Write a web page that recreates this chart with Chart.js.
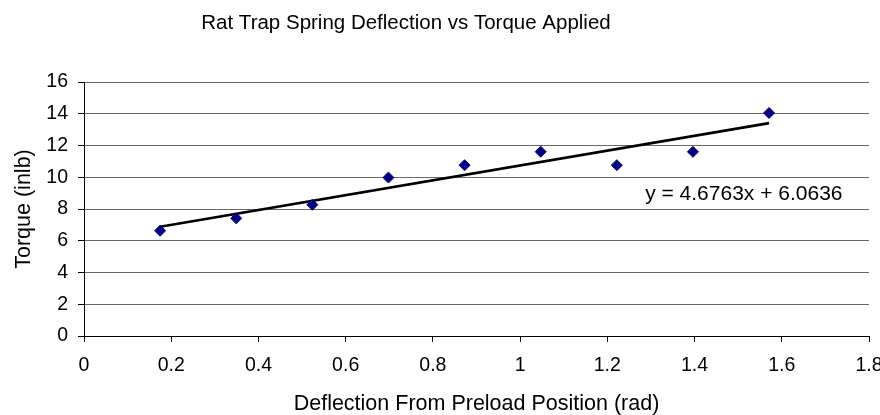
<!DOCTYPE html>
<html>
<head>
<meta charset="utf-8">
<script src="https://cdn.jsdelivr.net/npm/chart.js@4"></script>
<style>
  html, body { margin: 0; padding: 0; background: #fff; }
  canvas { display: block; }
</style>
</head>
<body>
<canvas id="springChart" width="880" height="415"></canvas>
<script>
// deflection in rad (10 deg steps) and measured torque
var deflection = [0.1745, 0.3491, 0.5236, 0.6981, 0.8727, 1.0472, 1.2217, 1.3963, 1.5708];
var torque = [6.63, 7.41, 8.27, 9.98, 10.76, 11.61, 10.76, 11.60, 14.05];

// linear trendline as shown in the picture
var trendX = [0.1745, 1.5708];
var trendY = [6.88, 13.41];
var trendLabel = "y = 4.6763x + 6.0636";
var trendLabelAt = [1.513, 8.96];

var chartTitle = "Rat Trap Spring Deflection vs Torque Applied";
var xTitle = "Deflection From Preload Position (rad)";
var yTitle = "Torque (inlb)";

var FONT = "'Liberation Sans', Arial, sans-serif";

var points = deflection.map(function (x, i) { return {x: x, y: torque[i]}; });
var trend = trendX.map(function (x, i) { return {x: x, y: trendY[i]}; });

var extraText = {
    id: "extraText",
    afterDraw: function (chart) {
        var ctx = chart.ctx;
        ctx.save();
        ctx.fillStyle = "#000";
        ctx.textAlign = "center";
        ctx.textBaseline = "alphabetic";
        ctx.font = "20.5px " + FONT;
        ctx.fillText(chartTitle, 406, 28.7);

        ctx.textBaseline = "middle";
        ctx.font = "21px " + FONT;
        var px = chart.scales.x.getPixelForValue(trendLabelAt[0]);
        var py = chart.scales.y.getPixelForValue(trendLabelAt[1]);
        ctx.fillText(trendLabel, px, py);
        ctx.restore();
    }
};

new Chart(document.getElementById("springChart"), {
    type: "scatter",
    data: {
        datasets: [{
            label: "Torque",
            data: points,
            pointStyle: "rectRot",
            pointRadius: 5.5,
            pointHoverRadius: 5.5,
            pointBackgroundColor: "#000080",
            pointBorderColor: "#000080",
            pointBorderWidth: 1,
            order: 1
        }, {
            label: "Linear",
            type: "line",
            data: trend,
            borderColor: "#000",
            borderWidth: 2.6,
            pointRadius: 0,
            fill: false,
            order: 2
        }]
    },
    options: {
        responsive: false,
        animation: false,
        devicePixelRatio: 1,
        layout: {padding: {top: 82, right: 11, bottom: 0, left: 0}},
        plugins: {
            legend: {display: false},
            title: {display: false},
            tooltip: {enabled: false}
        },
        scales: {
            x: {
                type: "linear",
                min: 0,
                max: 1.8,
                afterFit: function (s) { s.height = 79; s.paddingLeft = 0; s.paddingRight = 0; },
                ticks: {
                    stepSize: 0.2,
                    color: "#000",
                    padding: 12,
                    maxRotation: 0,
                    font: {family: FONT, size: 19.5},
                    callback: function (v) { return String(Math.round(v * 10) / 10); }
                },
                grid: {drawOnChartArea: false, drawTicks: true, tickLength: 6, tickColor: "#000"},
                border: {display: true, color: "#000", width: 1},
                title: {
                    display: true,
                    text: xTitle,
                    color: "#000",
                    padding: {top: 0, bottom: 0},
                    font: {family: FONT, size: 21.5, lineHeight: 1}
                }
            },
            y: {
                min: 0,
                max: 16,
                afterFit: function (s) { s.width = 84; s.paddingTop = 0; s.paddingBottom = 0; },
                ticks: {
                    stepSize: 2,
                    color: "#000",
                    padding: 10,
                    font: {family: FONT, size: 19.5}
                },
                grid: {color: "#6a6a6a", lineWidth: 1, tickLength: 6, tickColor: "#000"},
                border: {display: true, color: "#000", width: 1},
                title: {
                    display: true,
                    text: yTitle,
                    color: "#000",
                    padding: {top: 13, bottom: 0},
                    font: {family: FONT, size: 21.5, lineHeight: 1}
                }
            }
        }
    },
    plugins: [extraText]
});
</script>
</body>
</html>
